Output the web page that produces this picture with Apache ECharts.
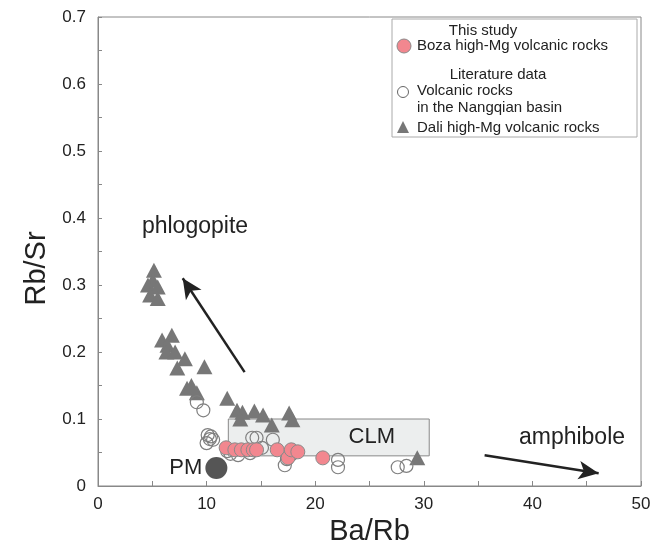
<!DOCTYPE html>
<html>
<head>
<meta charset="utf-8">
<script src="https://cdn.jsdelivr.net/npm/echarts@6/dist/echarts.min.js"></script>
<style>
  html, body { margin: 0; padding: 0; background: #fff; }
  #chart { width: 650px; height: 544px; }
</style>
</head>
<body>
<div id="chart"></div>
<script>
// Ba/Rb vs Rb/Sr
var daliHighMg = [
  [5.15, 0.322], [5.05, 0.307], [4.6, 0.300], [5.5, 0.297], [4.8, 0.285], [5.5, 0.280],
  [5.9, 0.218], [6.8, 0.225], [6.4, 0.210], [6.3, 0.200], [7.1, 0.200], [8.0, 0.190],
  [7.3, 0.176], [9.8, 0.178], [8.2, 0.146], [9.1, 0.139], [8.6, 0.150],
  [11.9, 0.131], [12.8, 0.113], [13.3, 0.110], [13.1, 0.100], [14.4, 0.112],
  [15.2, 0.106], [16.0, 0.091], [17.6, 0.109], [17.9, 0.099], [29.4, 0.042]
];
var nangqian = [
  [9.1, 0.125], [9.7, 0.113], [10.1, 0.076], [10.4, 0.074], [10.3, 0.070], [10.6, 0.069],
  [10.0, 0.064], [11.9, 0.052], [12.2, 0.048], [12.9, 0.046], [14.0, 0.049], [14.2, 0.072],
  [14.6, 0.072], [15.1, 0.057], [16.1, 0.069], [17.2, 0.031], [17.4, 0.040], [17.8, 0.047],
  [22.1, 0.039], [22.1, 0.028], [27.6, 0.028], [28.4, 0.030]
];
var bozaHighMg = [
  [11.8, 0.057], [12.6, 0.054], [13.2, 0.054], [13.8, 0.054], [14.3, 0.054], [14.6, 0.054],
  [16.5, 0.054], [17.5, 0.042], [17.8, 0.054], [18.4, 0.051], [20.7, 0.042]
];
var primitiveMantle = [[10.9, 0.027]];
var clmBox = [[12, 0.1], [30.5, 0.045]];
var phlogopiteArrow = [[13.5, 0.17], [7.8, 0.31]];
var amphiboleArrow = [[35.6, 0.046], [46.1, 0.019]];

var font = 'Liberation Sans, Arial, sans-serif';
var gray = '#777';

var chart = echarts.init(document.getElementById('chart'));
var option = {
  backgroundColor: '#fff',
  animation: false,
  grid: {
    left: 98, right: 9, top: 17, bottom: 58,
    outerBoundsMode: 'none',
    show: true, borderColor: '#888', borderWidth: 1
  },
  xAxis: {
    type: 'value', min: 0, max: 50, interval: 10,
    name: 'Ba/Rb', nameLocation: 'middle', nameGap: 28,
    nameTextStyle: { fontSize: 29, color: '#222', fontFamily: font },
    axisLine: { show: true, lineStyle: { color: '#888' } },
    axisTick: { show: true, inside: true, length: 5, lineStyle: { color: '#888' } },
    minorTick: { show: true, splitNumber: 2, length: 5, lineStyle: { color: '#888' } },
    axisLabel: { fontSize: 17, color: '#222', margin: 10, fontFamily: font },
    splitLine: { show: false }
  },
  yAxis: {
    type: 'value', min: 0, max: 0.7, interval: 0.1,
    name: 'Rb/Sr', nameLocation: 'middle', nameGap: 47,
    nameTextStyle: { fontSize: 29, color: '#222', fontFamily: font, padding: [0, 34, 0, 0] },
    axisLine: { show: true, lineStyle: { color: '#888' } },
    axisTick: { show: true, inside: true, length: 4, lineStyle: { color: '#888' } },
    minorTick: { show: true, splitNumber: 2, length: 4, lineStyle: { color: '#888' } },
    axisLabel: { fontSize: 17, color: '#222', margin: 12, fontFamily: font,
      formatter: function (v) { return v === 0 ? '0' : v.toFixed(1); } },
    splitLine: { show: false }
  },
  series: [
    {
      name: 'Dali high-Mg volcanic rocks',
      type: 'scatter',
      symbol: 'triangle',
      symbolSize: [16, 15],
      itemStyle: { color: gray, opacity: 1 },
      data: daliHighMg,
      z: 3,
      markArea: {
        silent: true,
        itemStyle: { color: '#eceeee', borderColor: '#888', borderWidth: 1 },
        label: { show: true, position: 'inside', formatter: 'CLM', fontSize: 22,
          color: '#222', fontFamily: font, offset: [43, 0] },
        data: [[{ coord: clmBox[0] }, { coord: clmBox[1] }]]
      },
      markLine: {
        silent: true,
        symbol: ['none', 'arrow'],
        symbolSize: [14, 20],
        label: { show: false },
        lineStyle: { color: '#222', width: 2.5, type: 'solid' },
        data: [
          [{ coord: phlogopiteArrow[0] }, { coord: phlogopiteArrow[1] }],
          [{ coord: amphiboleArrow[0] }, { coord: amphiboleArrow[1] }]
        ]
      }
    },
    {
      name: 'Volcanic rocks in the Nangqian basin',
      type: 'scatter',
      symbol: 'circle',
      symbolSize: 13,
      itemStyle: { color: 'rgba(255,255,255,0)', borderColor: '#7f7f7f', borderWidth: 1.2, opacity: 1 },
      data: nangqian,
      z: 4
    },
    {
      name: 'Boza high-Mg volcanic rocks',
      type: 'scatter',
      symbol: 'circle',
      symbolSize: 14,
      itemStyle: { color: '#f2878f', borderColor: '#8a8a8a', borderWidth: 1, opacity: 1 },
      data: bozaHighMg,
      z: 5
    },
    {
      name: 'PM',
      type: 'scatter',
      symbol: 'circle',
      symbolSize: 22,
      itemStyle: { color: '#555', opacity: 1 },
      label: { show: true, position: 'left', formatter: 'PM', fontSize: 22,
        color: '#222', fontFamily: font, distance: 3 },
      data: primitiveMantle,
      z: 5
    }
  ],
  graphic: [
    { type: 'text', x: 195, y: 227,
      style: { text: 'phlogopite', fontSize: 23, fill: '#222', fontFamily: font,
        align: 'center', verticalAlign: 'middle' } },
    { type: 'text', x: 572, y: 438,
      style: { text: 'amphibole', fontSize: 23, fill: '#222', fontFamily: font,
        align: 'center', verticalAlign: 'middle' } },
    // legend box
    { type: 'rect', shape: { x: 392, y: 19, width: 245, height: 118 },
      style: { fill: '#fff', stroke: '#aaa', lineWidth: 1 }, z: 10 },
    { type: 'text', x: 483, y: 31, z: 11,
      style: { text: 'This study', fontSize: 15, fill: '#222', fontFamily: font,
        align: 'center', verticalAlign: 'middle' } },
    { type: 'circle', shape: { cx: 404, cy: 46, r: 7 }, z: 11,
      style: { fill: '#f2878f', stroke: '#8a8a8a', lineWidth: 1 } },
    { type: 'text', x: 417, y: 46, z: 11,
      style: { text: 'Boza high-Mg volcanic rocks', fontSize: 15, fill: '#222',
        fontFamily: font, verticalAlign: 'middle' } },
    { type: 'text', x: 498, y: 75, z: 11,
      style: { text: 'Literature data', fontSize: 15, fill: '#222', fontFamily: font,
        align: 'center', verticalAlign: 'middle' } },
    { type: 'circle', shape: { cx: 403, cy: 92, r: 5.5 }, z: 11,
      style: { fill: '#fff', stroke: '#666', lineWidth: 1 } },
    { type: 'text', x: 417, y: 91, z: 11,
      style: { text: 'Volcanic rocks', fontSize: 15, fill: '#222',
        fontFamily: font, verticalAlign: 'middle' } },
    { type: 'text', x: 417, y: 108, z: 11,
      style: { text: 'in the Nangqian basin', fontSize: 15, fill: '#222',
        fontFamily: font, verticalAlign: 'middle' } },
    { type: 'polygon', shape: { points: [[403, 121], [409, 133], [397, 133]] }, z: 11,
      style: { fill: gray } },
    { type: 'text', x: 417, y: 128, z: 11,
      style: { text: 'Dali high-Mg volcanic rocks', fontSize: 15, fill: '#222',
        fontFamily: font, verticalAlign: 'middle' } }
  ]
};
chart.setOption(option);
</script>
</body>
</html>
